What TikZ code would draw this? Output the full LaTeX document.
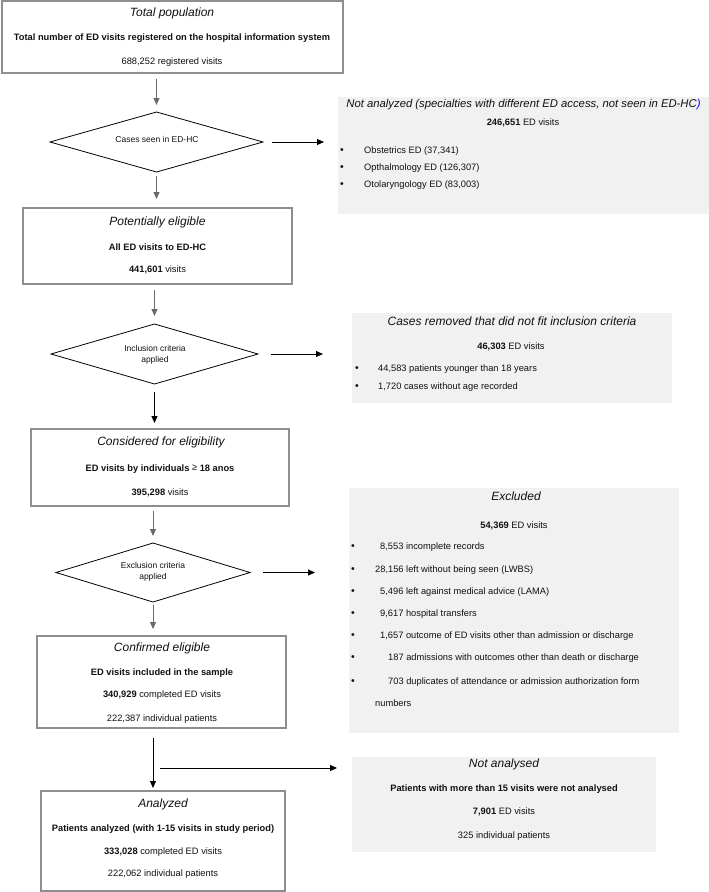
\documentclass[tikz,border=0pt]{standalone}
\usepackage{fontspec}
\setmainfont{Liberation Sans}
\usetikzlibrary{arrows.meta}
\definecolor{boxgray}{HTML}{8E8E8E}
\definecolor{graybg}{HTML}{F1F1F1}
\definecolor{arrgray}{HTML}{6A6A6A}
\definecolor{txtcol}{HTML}{111111}
\begin{document}
\begin{tikzpicture}[x=1pt,y=-1pt,
  box/.style={draw=boxgray, line width=1.1pt, fill=white, inner sep=0pt, outer sep=0pt},
  gbox/.style={fill=graybg, inner sep=0pt, outer sep=0pt},
  dia/.style={inner sep=0pt, outer sep=0pt},
  diaedge/.style={draw=black, line width=0.8pt},
  ttl/.style={font=\fontsize{12}{14}\selectfont\itshape, inner sep=0pt, text=txtcol},
  txt/.style={font=\fontsize{9.3}{11}\selectfont, inner sep=0pt, align=center, text=txtcol},
  dtxt/.style={font=\fontsize{8.5}{11}\selectfont, inner sep=0pt, align=center, text=txtcol},
  item/.style={txt, anchor=west},
  bul/.style={font=\fontsize{10.5}{11}\selectfont, inner sep=0pt, text=txtcol},
  arr/.style={draw=black, line width=0.9pt, -{Triangle[length=7pt,width=6pt]}},
  garr/.style={draw=arrgray, line width=0.9pt, -{Triangle[length=7pt,width=6pt,fill=arrgray]}},
]
\useasboundingbox (0,0) rectangle (709,892);

% ---------- main boxes ----------
\node[box, minimum width=341pt, minimum height=72pt] (B1) at (172.5,37) {};
\node[ttl] (B1a) at (172,13) {Total population};
\node[txt] (B1b) at (172,38) {\textbf{Total number of ED visits registered on the hospital information system}};
\node[txt] (B1c) at (172,62) {688,252 registered visits};

\node[box, minimum width=269pt, minimum height=76pt] (B2) at (157.5,246) {};
\node[ttl] (B2a) at (157.5,222) {Potentially eligible};
\node[txt] (B2b) at (157.5,247) {\textbf{All ED visits to ED-HC}};
\node[txt] (B2c) at (157.5,270) {\textbf{441,601} visits};

\node[box, minimum width=258pt, minimum height=77pt] (B3) at (160,467.5) {};
\node[ttl] (B3a) at (161,442) {Considered for eligibility};
\node[txt] (B3b) at (160,469) {\textbf{ED visits by individuals} \raisebox{1.5pt}{≥} \textbf{18 anos}};
\node[txt] (B3c) at (160,493) {\textbf{395,298} visits};

\node[box, minimum width=249pt, minimum height=92pt] (B4) at (161.5,682) {};
\node[ttl] (B4a) at (162,648) {Confirmed eligible};
\node[txt] (B4b) at (162,673) {\textbf{ED visits included in the sample}};
\node[txt] (B4c) at (162,695) {\textbf{340,929} completed ED visits};
\node[txt] (B4d) at (162,719) {222,387 individual patients};

\node[box, minimum width=244pt, minimum height=100pt] (B5) at (163,841) {};
\node[ttl] (B5a) at (163,804) {Analyzed};
\node[txt] (B5b) at (163,829) {\textbf{Patients analyzed (with 1-15 visits in study period)}};
\node[txt] (B5c) at (163,852) {\textbf{333,028} completed ED visits};
\node[txt] (B5d) at (163,874) {222,062 individual patients};

% ---------- diamonds ----------
\node[dia, minimum width=213pt, minimum height=60pt] (D1) at (156.5,142) {};
\draw[diaedge] (D1.west) -- (D1.north) -- (D1.east) -- (D1.south) -- cycle;
\node[dtxt] (D1t) at (157,139) {Cases seen in ED-HC};

\node[dia, minimum width=207pt, minimum height=60pt] (D2) at (154.5,354) {};
\draw[diaedge] (D2.west) -- (D2.north) -- (D2.east) -- (D2.south) -- cycle;
\node[dtxt] (D2t) at (155,355) {Inclusion criteria\\applied};

\node[dia, minimum width=194pt, minimum height=59pt] (D3) at (153,572.5) {};
\draw[diaedge] (D3.west) -- (D3.north) -- (D3.east) -- (D3.south) -- cycle;
\node[dtxt] (D3t) at (153,572) {Exclusion criteria\\applied};

% ---------- grey side boxes ----------
\node[gbox, minimum width=371pt, minimum height=117pt] (G1) at (523.5,155.5) {};
\node[ttl, font=\fontsize{11.3}{13}\selectfont\itshape] (G1a) at (523.5,105) {Not analyzed (specialties with different ED access, not seen in ED-HC{\color{blue})}};
\node[txt] (G1b) at (523,123) {\textbf{246,651} ED visits};
\node[bul] (G1p1) at (342,151) {•};
\node[item] (G1i1) at (364,151) {Obstetrics ED (37,341)};
\node[bul] (G1p2) at (342,168) {•};
\node[item] (G1i2) at (364,168) {Opthalmology ED (126,307)};
\node[bul] (G1p3) at (342,185) {•};
\node[item] (G1i3) at (364,185) {Otolaryngology ED (83,003)};

\node[gbox, minimum width=320pt, minimum height=90pt] (G2) at (512,358) {};
\node[ttl] (G2a) at (512,321) {Cases removed that did not fit inclusion criteria};
\node[txt] (G2b) at (511,347) {\textbf{46,303} ED visits};
\node[bul] (G2p1) at (357,369) {•};
\node[item] (G2i1) at (378,369) {44,583 patients younger than 18 years};
\node[bul] (G2p2) at (357,387) {•};
\node[item] (G2i2) at (378,387) {1,720 cases without age recorded};

\node[gbox, minimum width=330pt, minimum height=245pt] (G3) at (514,610.5) {};
\node[ttl] (G3a) at (516,496) {Excluded};
\node[txt] (G3b) at (514,526) {\textbf{54,369} ED visits};
\node[bul] (G3p1) at (353,547) {•};
\node[item] (G3i1) at (380,547) {8,553 incomplete records};
\node[bul] (G3p2) at (353,570) {•};
\node[item] (G3i2) at (375,570) {28,156 left without being seen (LWBS)};
\node[bul] (G3p3) at (353,592) {•};
\node[item] (G3i3) at (380,592) {5,496 left against medical advice (LAMA)};
\node[bul] (G3p4) at (353,614) {•};
\node[item] (G3i4) at (380,614) {9,617 hospital transfers};
\node[bul] (G3p5) at (353,636) {•};
\node[item] (G3i5) at (380,636) {1,657 outcome of ED visits other than admission or discharge};
\node[bul] (G3p6) at (353,658) {•};
\node[item] (G3i6) at (388,658) {187 admissions with outcomes other than death or discharge};
\node[bul] (G3p7) at (353,682) {•};
\node[item] (G3i7) at (388,682) {703 duplicates of attendance or admission authorization form};
\node[item] (G3i8) at (375,703) {numbers};

\node[gbox, minimum width=304pt, minimum height=95pt] (G4) at (504,804.5) {};
\node[ttl] (G4a) at (504,764) {Not analysed};
\node[txt] (G4b) at (504,789) {\textbf{Patients with more than 15 visits were not analysed}};
\node[txt] (G4c) at (504,812) {\textbf{7,901} ED visits};
\node[txt] (G4d) at (504,836) {325 individual patients};

% ---------- vertical arrows ----------
\draw[garr, shorten <=6pt, shorten >=7pt] (B1.south -| D1.north) -- (D1.north);
\draw[garr, shorten <=4pt, shorten >=9pt] (D1.south) -- (D1.south |- B2.north);
\draw[garr, shorten <=6pt, shorten >=8pt] (B2.south -| D2.north) -- (D2.north);
\draw[arr, shorten <=8pt, shorten >=6pt] (D2.south) -- (D2.south |- B3.north);
\draw[garr, shorten <=5pt, shorten >=7pt] (B3.south -| D3.north) -- (D3.north);
\draw[garr, shorten <=3pt, shorten >=7pt] (D3.south) -- (D3.south |- B4.north);
\draw[arr, shorten <=10pt, shorten >=3pt] (B4.south -| D3.south) -- (B5.north -| D3.south);

% ---------- horizontal arrows ----------
\draw[arr, shorten <=9pt, shorten >=14pt] (D1.east) -- (D1.east -| G1.west);
\draw[arr, shorten <=13pt, shorten >=29pt] (D2.east) -- (D2.east -| G2.west);
\draw[arr, shorten <=13pt, shorten >=34pt] (D3.east) -- (D3.east -| G3.west);
\coordinate (R4s) at (160,768);
\draw[arr, shorten >=15pt] (R4s) -- (R4s -| G4.west);
\end{tikzpicture}
\end{document}
